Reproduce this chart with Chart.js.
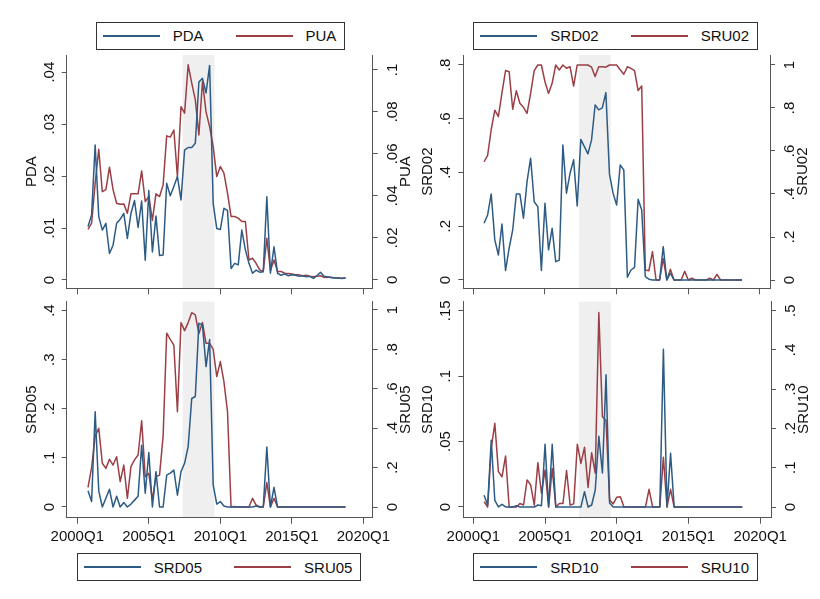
<!DOCTYPE html>
<html>
<head>
<meta charset="utf-8">
<script src="https://cdn.jsdelivr.net/npm/chart.js@4.4.0/dist/chart.umd.min.js"></script>
<style>
  body { margin: 0; width: 820px; height: 599px; background: #fff; position: relative; overflow: hidden;
         font-family: "Liberation Sans", Arial, sans-serif; }
  canvas { position: absolute; }
  .legend { position: absolute; height: 28px; box-sizing: border-box; border: 1px solid #333; background: #fff;
            display: flex; align-items: center; padding: 0 8px 0 6px; font-size: 15px; color: #111; }
  .legend .key { width: 57px; height: 2px; }
  .legend .txt { margin-left: 13px; }
  .legend .key2 { margin-left: 32px; }
</style>
</head>
<body>
<canvas id="c1" width="420" height="300" style="left:0;top:0"></canvas>
<canvas id="c2" width="410" height="300" style="left:410px;top:0"></canvas>
<canvas id="c3" width="420" height="301" style="left:0;top:298px"></canvas>
<canvas id="c4" width="410" height="301" style="left:410px;top:298px"></canvas>
<script>
// quarters 2000Q4 .. 2018Q4
const quarters = [];
for (let y = 2000; y <= 2018; y++) {
    for (let q = 1; q <= 4; q++) {
        if (y === 2000 && q < 4) continue;
        quarters.push(y + 'Q' + q);
    }
}
const xTickLabels = ['2000Q1', '2005Q1', '2010Q1', '2015Q1', '2020Q1'];
// first and last shaded quarter
const recession = ['2007Q3', '2009Q3'];

const PDA = [0.0103, 0.0125, 0.026, 0.0122, 0.0096, 0.0109, 0.0051, 0.0067, 0.0109, 0.0117,
    0.0128, 0.008, 0.0128, 0.0153, 0.0101, 0.0152, 0.0038, 0.0172, 0.0054, 0.0123,
    0.0047, 0.0048, 0.0186, 0.0162, 0.018, 0.0199, 0.0154, 0.025, 0.0255, 0.0255,
    0.0263, 0.0381, 0.0388, 0.036, 0.0413, 0.0147, 0.0099, 0.0097, 0.0138, 0.0134,
    0.0022, 0.0032, 0.0029, 0.0096, 0.0058, 0.0032, 0.0013, 0.0019, 0.0015, 0.0016,
    0.016, 0.0013, 0.0064, 0.0013, 0.0009, 0.0012, 0.0008, 0.001, 0.0009, 0.0007,
    0.0008, 0.0006, 0.0007, 0.0003, 0.0008, 0.0015, 0.0007, 0.0006, 0.0005, 0.0004,
    0.0004, 0.0003, 0.0004];
const PUA = [0.0241, 0.027, 0.046, 0.0622, 0.042, 0.043, 0.0537, 0.043, 0.0365, 0.036,
    0.0362, 0.0317, 0.041, 0.041, 0.041, 0.0519, 0.0373, 0.0397, 0.0283, 0.041,
    0.0397, 0.0452, 0.0686, 0.068, 0.0714, 0.0492, 0.0825, 0.0794, 0.1024, 0.0937,
    0.0857, 0.069, 0.0944, 0.080, 0.073, 0.0635, 0.0492, 0.054, 0.0508, 0.0413,
    0.0302, 0.0302, 0.0294, 0.0278, 0.0278, 0.0095, 0.0103, 0.0079, 0.0048, 0.004,
    0.0198, 0.0045, 0.0095, 0.004, 0.004, 0.0032, 0.003, 0.0028, 0.0025, 0.0024,
    0.002, 0.0022, 0.0018, 0.0015, 0.0018, 0.002, 0.0012, 0.0014, 0.0012, 0.001,
    0.0009, 0.0008, 0.001];
const SRD02 = [0.211, 0.242, 0.32, 0.149, 0.093, 0.208, 0.035, 0.118, 0.186, 0.32,
    0.32, 0.23, 0.366, 0.453, 0.291, 0.273, 0.035, 0.285, 0.112, 0.192,
    0.068, 0.074, 0.502, 0.323, 0.397, 0.447, 0.275, 0.523, 0.496, 0.469,
    0.521, 0.651, 0.633, 0.64, 0.697, 0.394, 0.323, 0.279, 0.428, 0.409,
    0.01, 0.037, 0.047, 0.30, 0.26, 0.012, 0.003, 0, 0, 0,
    0.124, 0, 0.025, 0, 0, 0, 0, 0, 0, 0,
    0, 0, 0, 0, 0, 0, 0, 0, 0, 0,
    0, 0, 0];
const SRU02 = [0.55, 0.58, 0.70, 0.79, 0.76, 0.87, 0.974, 0.969, 0.794, 0.88,
    0.822, 0.803, 0.775, 0.868, 0.974, 1.0, 1.0, 0.922, 0.868, 0.915,
    1.0, 0.977, 1.0, 0.985, 0.992, 0.902, 1.0, 1.0, 1.0, 1.0,
    0.99, 0.946, 0.992, 0.992, 0.99, 1.0, 1.0, 1.0, 0.978, 0.957,
    0.992, 0.984, 0.974, 0.881, 0.902, 0.0465, 0.043, 0.132, 0, 0,
    0.10, 0, 0.05, 0, 0, 0, 0.04, 0, 0.008, 0,
    0, 0, 0, 0.008, 0, 0.026, 0, 0, 0, 0,
    0, 0, 0];
const SRD05 = [0.033, 0.011, 0.194, 0.033, 0.0, 0.018, 0.036, 0, 0.022, 0,
    0.009, 0, 0.006, 0.014, 0.022, 0.126, 0.028, 0.111, 0, 0.072,
    0, 0, 0.065, 0.069, 0.075, 0.024, 0.072, 0.089, 0.123, 0.221,
    0.225, 0.374, 0.371, 0.286, 0.341, 0.045, 0.006, 0.011, 0.002, 0,
    0, 0, 0, 0, 0, 0, 0, 0.002, 0, 0,
    0.122, 0, 0.04, 0, 0, 0, 0, 0, 0, 0,
    0, 0, 0, 0, 0, 0, 0, 0, 0, 0,
    0, 0, 0];
const SRU05 = [0.10, 0.20, 0.36, 0.40, 0.222, 0.196, 0.242, 0.213, 0.255, 0.129,
    0.213, 0.044, 0.205, 0.239, 0.264, 0.438, 0.154, 0.171, 0.036, 0.154,
    0.162, 0.36, 0.882, 0.851, 0.822, 0.484, 0.936, 0.895, 0.936, 0.986,
    0.975, 0.88, 0.936, 0.831, 0.831, 0.80, 0.662, 0.738, 0.636, 0.484,
    0, 0.002, 0, 0, 0, 0, 0.044, 0.01, 0, 0,
    0.124, 0, 0.044, 0, 0, 0, 0, 0, 0, 0,
    0, 0, 0, 0, 0, 0, 0, 0, 0, 0,
    0, 0, 0];
const SRD10 = [0.009, 0.0015, 0.051, 0.005, 0, 0.002, 0, 0, 0, 0.001,
    0, 0, 0, 0, 0, 0.0015, 0.001, 0.048, 0, 0.048,
    0, 0, 0, 0, 0, 0, 0, 0, 0.0117, 0,
    0.0015, 0.013, 0.054, 0.026, 0.101, 0.003, 0, 0, 0, 0,
    0, 0, 0, 0, 0, 0, 0, 0, 0, 0,
    0.1205, 0, 0.041, 0, 0, 0, 0, 0, 0, 0,
    0, 0, 0, 0, 0, 0, 0, 0, 0, 0,
    0, 0, 0];
const SRU10 = [0.0136, 0, 0.15, 0.213, 0.09, 0.077, 0.13, 0, 0, 0,
    0.009, 0.005, 0.069, 0.056, 0.005, 0.113, 0.035, 0.094, 0, 0.098,
    0, 0.009, 0.009, 0.093, 0.005, 0.008, 0.16, 0.111, 0.152, 0.05,
    0.138, 0.086, 0.495, 0.23, 0.22, 0.018, 0.008, 0.025, 0.026, 0,
    0, 0, 0, 0, 0, 0, 0.045, 0, 0, 0,
    0.127, 0, 0.045, 0, 0, 0, 0, 0, 0, 0,
    0, 0, 0, 0, 0, 0, 0, 0, 0, 0,
    0, 0, 0];

const ticksPDA = [0, 0.01, 0.02, 0.03, 0.04];
const ticksPUA = [0, 0.02, 0.04, 0.06, 0.08, 0.1];
const ticksSRD02 = [0, 0.2, 0.4, 0.6, 0.8];
const ticksSRU02 = [0, 0.2, 0.4, 0.6, 0.8, 1];
const ticksSRD05 = [0, 0.1, 0.2, 0.3, 0.4];
const ticksSRU05 = [0, 0.2, 0.4, 0.6, 0.8, 1];
const ticksSRD10 = [0, 0.05, 0.1, 0.15];
const ticksSRU10 = [0, 0.1, 0.2, 0.3, 0.4, 0.5];

const BLUE = '#2d5b84';
const RED = '#9a3f46';
const AXIS = '#555';
const FONT = '"Liberation Sans", Arial, sans-serif';

// quarter label -> number of quarters after 2000Q1
function qIndex(s) {
    return (parseInt(s.slice(0, 4)) - 2000) * 4 + parseInt(s.slice(5)) - 1;
}
function fmt(v) {
    return String(v).replace(/^0\./, '.');
}

const stataAxes = {
    id: 'stataAxes',
    beforeDraw(chart, args, opts) {
        // grey band, each shaded quarter is one full period wide
        const { ctx, chartArea, scales: { x } } = chart;
        const x0 = x.getPixelForValue(qIndex(recession[0]) - 0.55);
        const x1 = x.getPixelForValue(qIndex(recession[1]) + 0.35);
        ctx.save();
        ctx.fillStyle = '#efefef';
        ctx.fillRect(x0, chartArea.top, x1 - x0, chartArea.bottom - chartArea.top);
        ctx.restore();
    },
    afterDraw(chart, args, opts) {
        // vertical tick labels and axis titles, both reading bottom to top
        const { ctx, chartArea } = chart;
        const midY = (chartArea.top + chartArea.bottom) / 2;
        ctx.save();
        ctx.font = '15px ' + FONT;
        ctx.fillStyle = '#111';
        ctx.textAlign = 'center';
        ctx.textBaseline = 'middle';
        [['yL', -1, opts.leftTitle], ['yR', 1, opts.rightTitle]].forEach(([id, side, title]) => {
            const s = chart.scales[id];
            const edge = side < 0 ? chartArea.left : chartArea.right;
            const lg = side < 0 ? opts.leftLabelGap : opts.rightLabelGap;
            const tg = side < 0 ? opts.leftTitleGap : opts.rightTitleGap;
            s.ticks.forEach(t => {
                ctx.save();
                ctx.translate(edge + side * lg, s.getPixelForValue(t.value));
                ctx.rotate(-Math.PI / 2);
                ctx.fillText(fmt(t.value), 0, 0);
                ctx.restore();
            });
            ctx.save();
            ctx.translate(edge + side * tg, midY);
            ctx.rotate(-Math.PI / 2);
            ctx.fillText(title, 0, 0);
            ctx.restore();
        });
        ctx.restore();
    }
};

function yAxis(pos, min, max, ticks, width) {
    return {
        type: 'linear', position: pos, min: min, max: max,
        afterBuildTicks: s => { s.ticks = ticks.map(v => ({ value: v })); },
        afterFit: s => { s.width = width; },
        ticks: { display: false },
        grid: { drawOnChartArea: false, drawTicks: true, tickLength: 5, color: AXIS, lineWidth: 1 },
        border: { display: true, color: AXIS, width: 1 }
    };
}

function makePanel(p) {
    const series = [[p.leftName, p.left, BLUE, 'yL'], [p.rightName, p.right, RED, 'yR']];
    new Chart(document.getElementById(p.canvas), {
        type: 'line',
        data: {
            datasets: series.map(([name, vals, col, ax]) => ({
                label: name,
                data: quarters.map((q, i) => ({ x: qIndex(q), y: vals[i] })),
                borderColor: col, borderWidth: 1.5, pointRadius: 0,
                borderJoinStyle: 'round', tension: 0, yAxisID: ax
            }))
        },
        options: {
            responsive: false, animation: false, events: [],
            layout: { padding: { top: p.top, bottom: p.bottom, left: 0, right: 0 } },
            plugins: {
                legend: { display: false }, tooltip: { enabled: false },
                stataAxes: {
                    leftTitle: p.leftName, rightTitle: p.rightName,
                    leftLabelGap: 17, leftTitleGap: 35, rightLabelGap: 20, rightTitleGap: 33
                }
            },
            scales: {
                x: {
                    type: 'linear', min: p.xmin, max: p.xmax,
                    afterBuildTicks: s => { s.ticks = xTickLabels.map(l => ({ value: qIndex(l) })); },
                    afterFit: s => { s.height = p.xHeight; },
                    ticks: {
                        display: p.xLabels, autoSkip: false, maxRotation: 0, padding: 4,
                        color: '#111', font: { family: FONT, size: 15 },
                        callback: v => xTickLabels.find(l => qIndex(l) === v)
                    },
                    grid: { drawOnChartArea: false, drawTicks: true, tickLength: 6, color: AXIS },
                    border: { display: true, color: AXIS, width: 1 }
                },
                yL: yAxis('left', p.yL[0], p.yL[1], p.leftTicks, p.leftW),
                yR: yAxis('right', p.yR[0], p.yR[1], p.rightTicks, p.rightW)
            }
        },
        plugins: [stataAxes]
    });
}

makePanel({ canvas: 'c1', leftName: 'PDA', rightName: 'PUA', left: PDA, right: PUA,
    leftTicks: ticksPDA, rightTicks: ticksPUA, yL: [-0.0016, 0.0433], yR: [-0.0040, 0.1071],
    xmin: -2.96, xmax: 82.6, top: 55, bottom: 1.7, xHeight: 10, leftW: 66.7, rightW: 47.3, xLabels: false });
makePanel({ canvas: 'c2', leftName: 'SRD02', rightName: 'SRU02', left: SRD02, right: SRU02,
    leftTicks: ticksSRD02, rightTicks: ticksSRU02, yL: [-0.031, 0.837], yR: [-0.0386, 1.0465],
    xmin: -2.79, xmax: 82.8, top: 55, bottom: 1.7, xHeight: 10, leftW: 53.3, rightW: 50, xLabels: false });
makePanel({ canvas: 'c3', leftName: 'SRD05', rightName: 'SRU05', left: SRD05, right: SRU05,
    leftTicks: ticksSRD05, rightTicks: ticksSRU05, yL: [-0.0218, 0.4181], yR: [-0.0543, 1.042],
    xmin: -2.96, xmax: 82.6, top: 3.7, bottom: 41.3, xHeight: 40, leftW: 66.7, rightW: 47.3, xLabels: true });
makePanel({ canvas: 'c4', leftName: 'SRD10', rightName: 'SRU10', left: SRD10, right: SRU10,
    leftTicks: ticksSRD10, rightTicks: ticksSRU10, yL: [-0.0082, 0.1569], yR: [-0.0272, 0.5228],
    xmin: -2.79, xmax: 83.0, top: 3.7, bottom: 41.3, xHeight: 40, leftW: 53.3, rightW: 49, xLabels: true });

// legends
function legend(left, top, a, b) {
    const d = document.createElement('div');
    d.className = 'legend';
    d.style.left = left + 'px';
    d.style.top = top + 'px';
    d.innerHTML = '<div class="key" style="background:' + BLUE + '"></div><span class="txt">' + a + '</span>' +
        '<div class="key key2" style="background:' + RED + '"></div><span class="txt">' + b + '</span>';
    document.body.appendChild(d);
}
legend(95.7, 21.7, 'PDA', 'PUA');
legend(473.3, 21.7, 'SRD02', 'SRU02');
legend(76.7, 553, 'SRD05', 'SRU05');
legend(473.3, 553, 'SRD10', 'SRU10');
</script>
</body>
</html>
